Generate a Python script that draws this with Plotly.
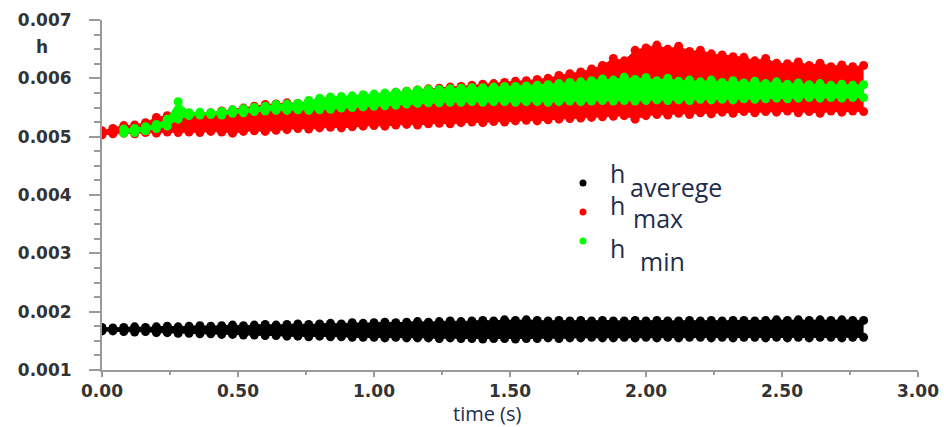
import numpy as np
import plotly.graph_objects as go

# ---------------- data (h values in units of 1e-5) ----------------
SCALE = 1e-5
t_all = np.round(np.arange(71) * 0.04, 2)          # 0.00 ... 2.80 s
t_green = t_all[2:]                                  # 0.08 ... 2.80 s

h_avg_upper = [173,172,173,174,173,174,175,174,175,176,
               175,176,177,176,177,178,177,178,179,178,
               179,180,179,181,180,181,182,181,182,183,
               182,183,184,183,184,185,184,186,185,186,
               185,184,185,184,185,184,185,184,184,185,
               184,185,184,184,185,184,185,184,185,185,
               184,185,186,185,186,185,186,185,186,185,
               185]
h_avg_lower = [167,167,166,165,166,164,164,163,163,162,
               162,161,161,160,160,159,159,158,158,157,
               158,157,157,156,156,156,155,156,155,155,
               155,154,155,154,154,153,154,154,153,154,
               154,155,154,155,155,156,155,155,156,155,
               156,155,156,155,156,156,155,156,155,156,
               156,155,156,155,156,155,156,156,155,156,
               156]
h_max_upper = [510,514,519,520,524,533,536,535,538,540,
               541,544,546,549,552,555,556,558,557,560,
               562,563,565,566,568,570,572,576,578,580,
               582,583,585,586,588,590,591,593,595,596,
               598,600,605,608,611,616,622,634,630,648,
               652,657,650,655,646,648,642,640,637,636,
               630,634,626,625,628,622,626,620,623,620,
               622]
h_max_lower = [503,505,506,505,507,506,508,507,508,507,
               509,508,506,509,510,509,511,512,514,513,
               515,516,515,517,518,519,518,520,521,520,
               522,523,522,524,525,524,526,525,527,528,
               527,529,530,531,532,533,534,535,536,530,
               536,538,537,540,538,541,539,542,540,543,
               541,543,542,544,541,543,540,544,542,544,
               543]
h_min_upper = [513,514,517,521,530,560,541,542,541,543,
               546,548,550,552,555,556,557,562,566,568,
               569,570,572,573,575,576,578,580,581,581,
               582,583,584,584,585,586,586,587,588,589,
               591,593,594,596,599,597,602,598,601,596,
               600,595,597,594,597,593,596,592,595,591,
               594,590,592,589,591,588,590,588,589]
h_min_lower = [506,507,510,514,518,530,536,537,538,537,
               540,541,543,544,545,545,546,545,546,547,
               549,550,551,552,553,554,556,557,558,558,
               559,559,560,559,560,560,559,560,560,559,
               560,561,560,561,562,561,562,561,562,563,
               562,563,562,564,563,564,563,565,564,565,
               566,565,566,567,566,567,566,567,567]

series = [
    ("h averege", t_all, h_avg_upper, h_avg_lower, "#000000"),
    ("h max", t_all, h_max_upper, h_max_lower, "#ff0000"),
    ("h min", t_green, h_min_upper, h_min_lower, "#00ff00"),
]
x_ticks = [0, 0.5, 1.0, 1.5, 2.0, 2.5, 3.0]
y_ticks = [0.001, 0.002, 0.003, 0.004, 0.005, 0.006, 0.007]

# ---------------- figure ----------------
W, H = 944, 427
L, R, T, B = 102, 26, 20, 57
fig = go.Figure()
MS = 9
for name, tt, up, lo, col in series:
    up = np.array(up) * SCALE
    lo = np.array(lo) * SCALE
    fig.add_trace(go.Scatter(x=tt, y=up, mode="lines+markers", name=name,
                             marker=dict(size=MS, color=col, line=dict(width=0)),
                             line=dict(width=1, color=col),
                             showlegend=False, hoverinfo="skip"))
    fig.add_trace(go.Scatter(x=tt, y=lo, mode="lines+markers", name=name,
                             marker=dict(size=MS, color=col, line=dict(width=0)),
                             fill="tonexty", fillcolor=col, line=dict(width=1, color=col),
                             showlegend=False, hoverinfo="skip"))

axis_col = "#9a9a9a"
tick_font = dict(family="DejaVu Sans", size=17, color="#333333", weight="bold")
fig.update_xaxes(range=[0, 3], tickvals=x_ticks, ticktext=[f"{v:.2f}" for v in x_ticks],
                 showline=True, linecolor=axis_col, linewidth=2, ticks="outside",
                 ticklen=5, tickwidth=2, tickcolor=axis_col,
                 minor=dict(dtick=0.25, ticks="outside", ticklen=3, tickwidth=2, tickcolor=axis_col),
                 showgrid=False, zeroline=False, tickfont=tick_font, automargin=False,
                 ticklabelstandoff=0)
fig.update_yaxes(range=[0.001, 0.007], tickvals=y_ticks, ticktext=[f"{v:.3f}" for v in y_ticks],
                 showline=True, linecolor=axis_col, linewidth=2, ticks="outside",
                 ticklen=11, tickwidth=2, tickcolor=axis_col,
                 minor=dict(dtick=0.00025, ticks="outside", ticklen=6, tickwidth=2, tickcolor=axis_col),
                 showgrid=False, zeroline=False, tickfont=tick_font, automargin=False,
                 ticklabelstandoff=14)

pw, ph = W - L - R, H - T - B
def px(x): return (x - L) / pw
def py(y): return (H - B - y) / ph

ann = [
    dict(text="h", x=px(42), y=py(47), xanchor="center",
         font=dict(family="DejaVu Sans", size=17, color="#333333", weight="bold")),
    dict(text="time (s)", x=px(487), y=py(413), xanchor="center", borderpad=0,
         font=dict(family="Open Sans", size=20, color="#1f2d4d")),
]
leg_font = dict(family="Open Sans", size=25, color="#1f2d4d")
legend_items = [
    (183, "#000000", 617, 173, "averege", 628, 187),
    (212, "#ff0000", 617, 205, "max", 631, 218),
    (241, "#00ff00", 617, 248, "min", 638, 261),
]
shapes = []
for dy, col, hx, hy, sub, sx, sy in legend_items:
    shapes.append(dict(type="circle", xref="paper", yref="paper", xsizemode="pixel", ysizemode="pixel",
                       xanchor=px(583), yanchor=py(dy), x0=-3.5, x1=3.5, y0=-3.5, y1=3.5,
                       fillcolor=col, line=dict(width=0)))
    ann.append(dict(text="h", x=px(hx), y=py(hy), xanchor="center", font=leg_font))
    ann.append(dict(text=sub, x=px(sx), y=py(sy), xanchor="left", font=leg_font))
for a in ann:
    a.update(xref="paper", yref="paper", showarrow=False, yanchor="middle")

fig.update_layout(width=W, height=H, margin=dict(l=L, r=R, t=T, b=B),
                  paper_bgcolor="white", plot_bgcolor="white",
                  annotations=ann, shapes=shapes, showlegend=False)
fig.write_html("out.html")
